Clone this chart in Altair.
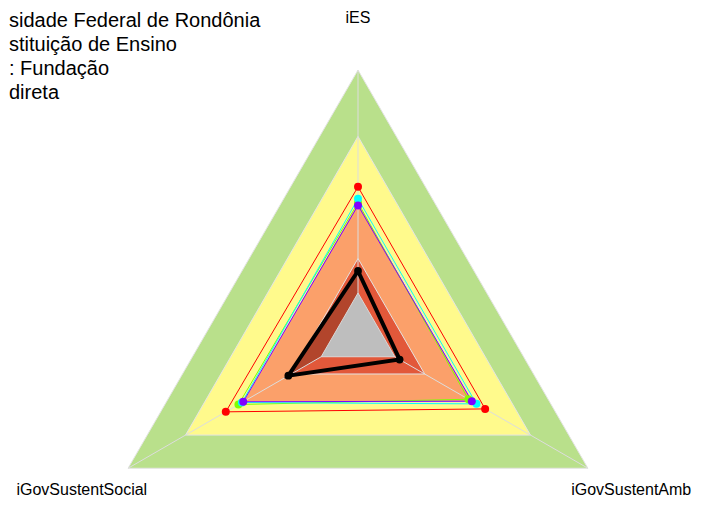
import math
import altair as alt
import pandas as pd

# ---- data -------------------------------------------------------------
axes = ["iES", "iGovSustentAmb", "iGovSustentSocial"]
angles_deg = [90, -30, 210]

band_levels = [1.0, 0.75, 0.5, 0.29]
band_colors = ["#B9E08B", "#FFFA8C", "#FBA06A", "#E2583A"]
grey_level = 0.16
grey_color = "#BEBEBE"
wedge_color = "#B2452C"

series_names = ["s1", "s2", "s3", "s4"]
series_colors = ["#FF0000", "#80FF00", "#00FFFF", "#8000FF"]
series_values = [
    [0.56, 0.553, 0.575],
    [0.50, 0.48, 0.52],
    [0.515, 0.515, 0.505],
    [0.49, 0.495, 0.499],
]
entity_values = [0.243, 0.181, 0.303]

legend_lines = [
    "sidade Federal de Rondônia",
    "stituição de Ensino",
    ": Fundação",
    "direta",
]

# ---- helpers ----------------------------------------------------------
W, H = 686, 490
CX, CY, R = 350.0, 327.5, 265.5
xdom = [-CX / R, (W - CX) / R]
ydom = [-(H - CY) / R, CY / R]
xs = alt.Scale(domain=xdom, range=[0, W], nice=False, zero=False)
ys = alt.Scale(domain=ydom, range=[H, 0], nice=False, zero=False)


def pt(v, k):
    a = math.radians(angles_deg[k])
    return v * math.cos(a), v * math.sin(a)


def poly_df(vals):
    rows = []
    for i in range(4):
        x, y = pt(vals[i % 3], i % 3)
        rows.append({"x": x, "y": y, "o": i})
    return pd.DataFrame(rows)


def enc(ch):
    return ch.encode(
        x=alt.X("x:Q", scale=xs, axis=None),
        y=alt.Y("y:Q", scale=ys, axis=None),
        order="o:Q",
    )


layers = []
for lvl, col in zip(band_levels, band_colors):
    layers.append(enc(alt.Chart(poly_df([lvl] * 3)).mark_line(
        fill=col, stroke="#E4E4E4", strokeWidth=1)))

# darker wedge of the entity polygon
wedge_rows = [{"x": 0.0, "y": 0.0, "o": 0}]
x0, y0 = pt(entity_values[0], 0)
x2, y2 = pt(entity_values[2], 2)
wedge_rows += [{"x": x0, "y": y0, "o": 1}, {"x": x2, "y": y2, "o": 2},
               {"x": 0.0, "y": 0.0, "o": 3}]
layers.append(enc(alt.Chart(pd.DataFrame(wedge_rows)).mark_line(
    fill=wedge_color, stroke=wedge_color, strokeWidth=0.5)))

# radial axis lines
ax_rows = []
for k in range(3):
    x, y = pt(1.0, k)
    ax_rows += [{"x": 0.0, "y": 0.0, "o": 0, "a": axes[k]},
                {"x": x, "y": y, "o": 1, "a": axes[k]}]
layers.append(alt.Chart(pd.DataFrame(ax_rows)).mark_line(
    color="#DDDDDD", strokeWidth=1).encode(
    x=alt.X("x:Q", scale=xs, axis=None),
    y=alt.Y("y:Q", scale=ys, axis=None),
    order="o:Q", detail="a:N"))

# inner grey triangle
layers.append(enc(alt.Chart(poly_df([grey_level] * 3)).mark_line(
    fill=grey_color, stroke="#D8D8D8", strokeWidth=1)))

# comparison series
for vals, col in zip(series_values, series_colors):
    d = poly_df(vals)
    layers.append(enc(alt.Chart(d).mark_line(color=col, strokeWidth=1)))
for vals, col in zip(series_values, series_colors):
    d = poly_df(vals).iloc[:3]
    layers.append(alt.Chart(d).mark_circle(color=col, opacity=1, size=64).encode(
        x=alt.X("x:Q", scale=xs, axis=None),
        y=alt.Y("y:Q", scale=ys, axis=None)))

# entity series
de = poly_df(entity_values)
layers.append(enc(alt.Chart(de).mark_line(color="#000000", strokeWidth=4)))
layers.append(alt.Chart(de.iloc[:3]).mark_circle(color="#000000", opacity=1, size=60).encode(
    x=alt.X("x:Q", scale=xs, axis=None),
    y=alt.Y("y:Q", scale=ys, axis=None)))

# axis labels
label_r = [1.207, 1.21, 1.21]
label_dx = [0, -5, 2]
label_dy = [3, -6, -6]
for k in range(3):
    x, y = pt(label_r[k], k)
    layers.append(alt.Chart(pd.DataFrame([{"x": x, "y": y, "t": axes[k]}])).mark_text(
        font="Liberation Sans", fontSize=16, color="#000000",
        align="center", baseline="middle", dx=label_dx[k], dy=label_dy[k]).encode(
        x=alt.X("x:Q", scale=xs, axis=None),
        y=alt.Y("y:Q", scale=ys, axis=None),
        text="t:N"))

# legend text (top-left)
legend_y = [18.5, 42.5, 66.5, 90.5]
for t, yy in zip(legend_lines, legend_y):
    layers.append(alt.Chart(pd.DataFrame([{"t": t}])).mark_text(
        font="Liberation Sans", fontSize=20, color="#000000",
        align="left", baseline="alphabetic").encode(
        x=alt.value(1), y=alt.value(yy), text="t:N"))

chart = alt.layer(*layers).properties(
    width=W, height=H,
    autosize=alt.AutoSizeParams(type="none"),
    padding=0,
).configure_view(stroke=None)

chart.save("out.html", embed_options={"renderer": "svg", "actions": False})
